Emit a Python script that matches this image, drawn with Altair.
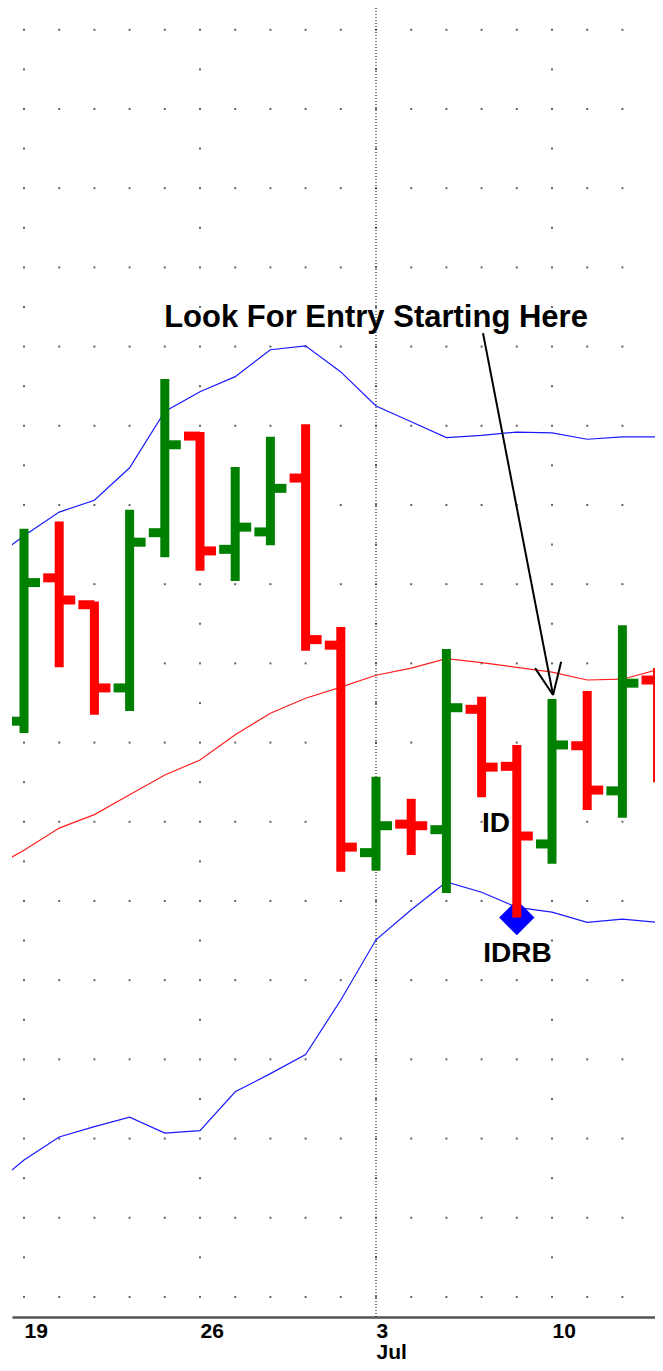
import altair as alt
import pandas as pd

# ---------------- data ----------------
# trading-day index (0 = Jun 19)
days = list(range(19))
opens  = [27.27, 29.08, 28.74, 27.69, 29.65, 30.87, 29.44, 29.66, 30.34, 28.23,
          25.61, 25.97, 25.90, 27.42, 26.70, 25.72, 26.96, 26.39, 27.79]
highs  = [29.70, 29.79, 28.78, 29.94, 31.59, 30.92, 30.48, 30.86, 31.02, 28.46,
          26.57, 26.29, 28.18, 27.58, 26.97, 27.55, 27.65, 28.48, 27.94]
lows   = [27.12, 27.95, 27.35, 27.40, 29.34, 29.17, 29.04, 29.49, 28.16, 25.37,
          25.38, 25.58, 25.10, 26.31, 24.79, 25.47, 26.15, 26.05, 26.50]
closes = [29.02, 28.80, 27.69, 29.53, 30.76, 29.42, 29.72, 30.21, 28.30, 25.68,
          25.95, 25.95, 27.44, 26.69, 25.82, 26.97, 26.40, 27.75, 26.80]

# Bollinger bands (day -1 .. 18)
band_days = list(range(-1, 19))
upper  = [29.28, 29.61, 29.91, 30.06, 30.47, 31.18, 31.43, 31.62, 31.96, 32.01,
          31.68, 31.25, 31.05, 30.85, 30.88, 30.92, 30.91, 30.83, 30.86, 30.86]
middle = [25.39, 25.64, 25.92, 26.09, 26.34, 26.59, 26.78, 27.10, 27.37, 27.56,
          27.70, 27.85, 27.94, 28.06, 28.01, 27.95, 27.89, 27.79, 27.80, 27.92]
lower  = [21.36, 21.73, 22.02, 22.15, 22.27, 22.07, 22.10, 22.59, 22.82, 23.06,
          23.75, 24.51, 24.89, 25.24, 25.11, 24.92, 24.86, 24.73, 24.77, 24.73]

# x-axis ticks
tick_days = [0, 5, 10, 15]
tick_labels = ["19", "26", "3", "10"]
month_day = [10]
month_label = ["Jul"]

# grid levels
full_levels = list(range(20, 37))
half_levels = [lv + 0.5 for lv in full_levels[:-1]]

# annotations
ann_text = ["Look For Entry Starting Here", "ID", "IDRB"]
ann_x = [10.0, 13.41, 14.02]
ann_y = [32.25, 25.87, 24.23]
ann_size = [31, 28, 28]

arrow_x1 = [13.04, 14.52, 15.26]
arrow_y1 = [32.17, 27.94, 28.02]
arrow_x2 = [15.03, 15.03, 15.03]
arrow_y2 = [27.60, 27.60, 27.60]

marker_x = [14]
marker_y = [24.79]

# ---------------- tables ----------------
bars_df = pd.DataFrame({"day": days, "open": opens, "high": highs,
                        "low": lows, "close": closes})
bars_df["dir"] = ["up" if c >= o else "down" for o, c in zip(opens, closes)]

band_df = pd.concat([
    pd.DataFrame({"day": band_days, "value": upper, "band": "upper"}),
    pd.DataFrame({"day": band_days, "value": middle, "band": "middle"}),
    pd.DataFrame({"day": band_days, "value": lower, "band": "lower"}),
])

dots = [{"day": d, "level": lv} for lv in full_levels for d in days]
dots += [{"day": d, "level": lv} for lv in half_levels for d in tick_days]
dots_df = pd.DataFrame(dots)

ann_df = pd.DataFrame({"text": ann_text, "x": ann_x, "y": ann_y, "size": ann_size})
arrow_df = pd.DataFrame({"x1": arrow_x1, "y1": arrow_y1, "x2": arrow_x2, "y2": arrow_y2})
marker_df = pd.DataFrame({"x": marker_x, "y": marker_y})
month_df = pd.DataFrame({"day": month_day})

# ---------------- scales / axis ----------------
parts = []
for d, lab in zip(tick_days, tick_labels):
    if d in month_day:
        parts.append(f"datum.value == {d} ? ['{lab}', '{month_label[month_day.index(d)]}']")
    else:
        parts.append(f"datum.value == {d} ? '{lab}'")
label_expr = " : ".join(parts) + " : ''"

xscale = alt.Scale(domain=[-0.341, 17.926], nice=False, zero=False)
yscale = alt.Scale(domain=[19.747, 36.275], nice=False, zero=False)
xaxis = alt.Axis(values=tick_days, labelExpr=label_expr, title=None, grid=False,
                 ticks=False, tickSize=0, domainColor="#555555", domainWidth=2.5,
                 labelPadding=3, labelAlign="left", labelBaseline="top",
                 labelFont="Liberation Sans Narrow, Arial Narrow, Liberation Sans",
                 labelFontSize=21, labelFontWeight="bold", labelColor="#000000",
                 labelLineHeight=21, labelOverlap=False, labelFlush=False,
                 labelBound=False)

def X(field):
    return alt.X(field, type="quantitative", scale=xscale, axis=xaxis)

def Y(field):
    return alt.Y(field, type="quantitative", scale=yscale, axis=None)

dir_color = alt.Color("dir:N", scale=alt.Scale(domain=["up", "down"],
                                               range=["#008000", "#ff0000"]),
                      legend=None)

# ---------------- layers ----------------
dots_layer = alt.Chart(dots_df).mark_square(size=4, color="#555555", opacity=0.9).encode(
    x=X("day"), y=Y("level"))

vline = alt.Chart(month_df).mark_rule(color="#000000", strokeWidth=1,
                                      strokeDash=[1, 2]).encode(x=X("day"))

band_layers = [
    alt.Chart(band_df).transform_filter(alt.datum.band == name)
    .mark_line(strokeWidth=1.2, clip=True, color=col)
    .encode(x=X("day"), y=Y("value"))
    for name, col in [("upper", "#1a1aff"), ("middle", "#ff2020"), ("lower", "#1a1aff")]
]

marker = alt.Chart(marker_df).mark_point(shape="diamond", filled=True, size=1250,
                                         color="#0000ff", opacity=1).encode(
    x=X("x"), y=Y("y"))

vbars = alt.Chart(bars_df).mark_rule(strokeWidth=9, strokeCap="butt", clip=True).encode(
    x=X("day"), y=Y("low"), y2="high", color=dir_color)

open_ticks = alt.Chart(bars_df).transform_calculate(xl="datum.day - 0.455").mark_rule(
    strokeWidth=9, strokeCap="butt", clip=True).encode(
    x=X("xl"), x2="day:Q", y=Y("open"), color=dir_color)

close_ticks = alt.Chart(bars_df).transform_calculate(xr="datum.day + 0.455").mark_rule(
    strokeWidth=9, strokeCap="butt", clip=True).encode(
    x=X("day"), x2="xr:Q", y=Y("close"), color=dir_color)

arrow = alt.Chart(arrow_df).mark_rule(color="#000000", strokeWidth=2).encode(
    x=X("x1"), y=Y("y1"), x2="x2:Q", y2="y2:Q")

texts = alt.Chart(ann_df).mark_text(font="Liberation Sans, Arial", fontWeight="bold",
                                    align="center", baseline="alphabetic",
                                    color="#000000").encode(
    x=X("x"), y=Y("y"), text="text:N", size=alt.Size("size:Q", scale=None))

chart = alt.layer(dots_layer, vline, *band_layers, marker, vbars, open_ticks, close_ticks,
                  arrow, texts).properties(
    width=643, height=1309,
    padding={"left": 4, "top": 0, "right": 0, "bottom": 46},
    autosize=alt.AutoSizeParams(type="none"),
    background="white",
).configure_view(strokeWidth=0)

chart.save("out.html", embed_options={"renderer": "svg", "actions": False})
